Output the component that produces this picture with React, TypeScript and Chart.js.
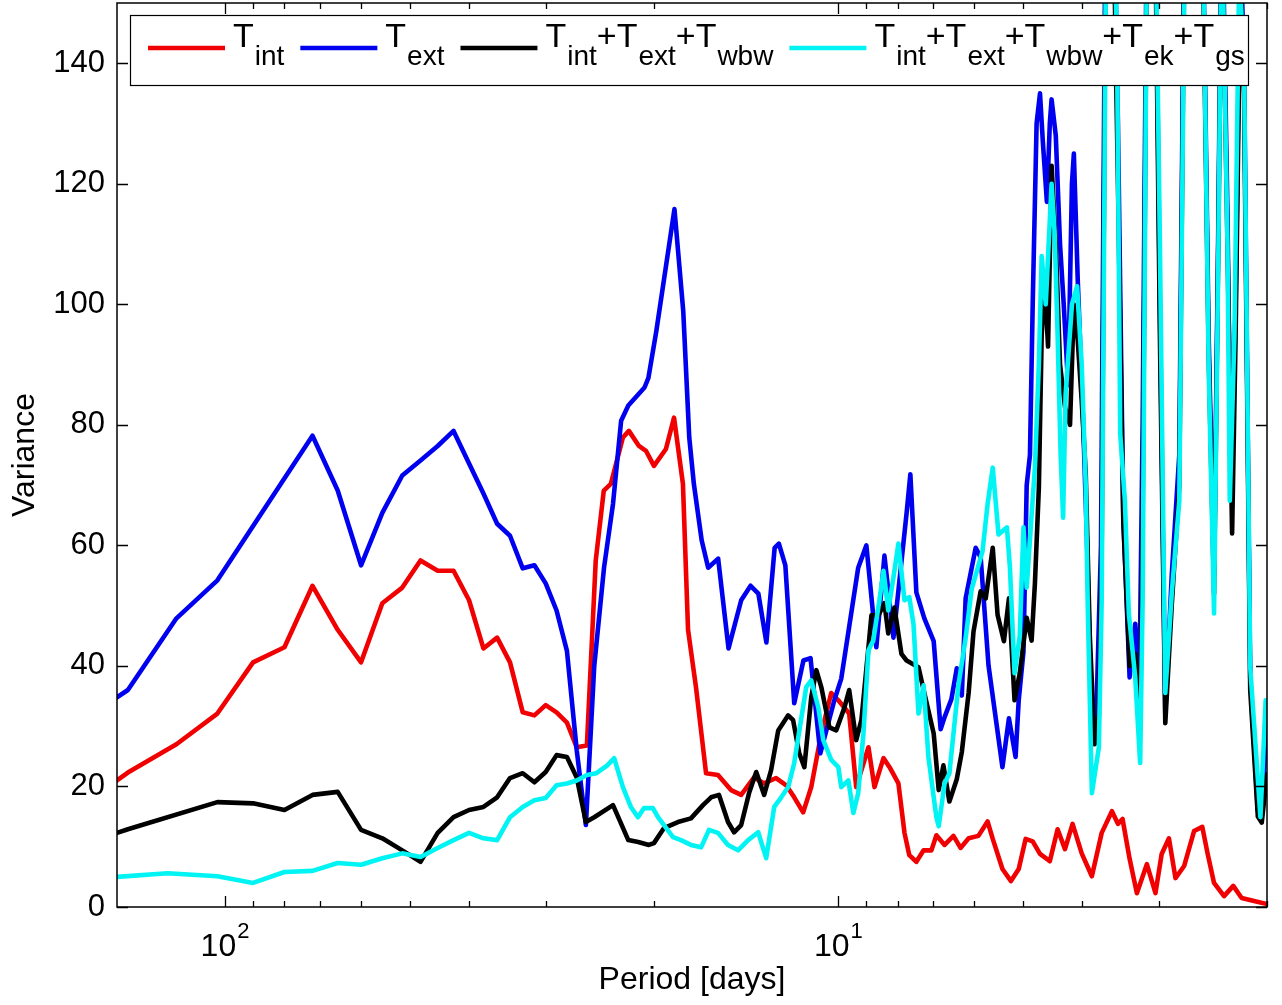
import React, { useEffect, useRef } from 'react';
import { Chart, registerables } from 'chart.js';

Chart.register(...registerables);

// ---- data (period in days, variance) ----
const redPeriod = [150,144,120,102.9,90,80,72,65.5,60,55.4,51.4,48,45,42.4,40,37.9,36,34.3,32.7,31.3,30,28.8,27.7,26.7,25.7,24.86,24.12,23.49,22.45,21.95,21.14,20.59,19.98,19.10,18.53,17.92,17.58,17.06,16.43,15.71,14.96,14.40,13.72,13.21,12.63,12.16,11.80,11.41,11.07,10.66,10.27,10.0,9.60,9.35,8.93,8.73,8.44,8.25,7.98,7.80,7.66,7.46,7.26,7.05,6.92,6.71,6.49,6.32,6.13,5.91,5.71,5.60,5.40,5.23,5.08,4.95,4.82,4.69,4.52,4.39,4.27,4.15,4.01,3.86,3.72,3.58,3.50,3.44,3.35,3.26,3.14,3.04,2.97,2.89,2.82,2.73,2.63,2.55,2.50,2.44,2.35,2.27,2.20,2.10,2.0];
const redValue = [21.0,22.3,27.0,32.1,40.6,43.1,53.3,46.0,40.6,50.4,53.0,57.5,55.8,55.8,50.9,42.9,44.7,40.6,32.3,31.8,33.5,32.3,30.6,26.5,26.8,57.5,69.1,70.2,77.9,79.0,76.5,75.7,73.2,76.0,81.2,70.2,46.0,36.4,22.2,21.9,19.4,18.6,21.5,20.5,21.4,20.2,18.2,15.7,19.9,28.8,35.5,34.3,32.1,19.9,26.5,19.9,24.7,23.2,20.5,12.3,8.6,7.5,9.4,9.4,11.9,10.3,11.8,9.8,11.4,11.8,14.2,11.3,6.3,4.3,6.3,11.3,10.9,8.8,7.6,12.9,9.6,13.8,8.9,5.1,12.3,15.9,13.8,14.6,8.0,2.3,7.1,2.3,8.8,11.4,4.8,6.8,12.6,13.3,8.9,4.0,1.8,3.5,1.5,1.0,0.5];

const bluePeriod = [150,144,120,102.9,72,65.5,60,55.4,51.4,48,45,42.4,40,37.9,36,34.3,32.7,31.3,30,28.8,27.7,26.7,25.8,25.0,24.1,23.3,22.6,22.0,20.7,20.4,19.8,18.5,17.9,17.5,17.2,16.7,16.3,15.7,15.1,14.4,13.9,13.5,13.1,12.7,12.5,12.2,11.8,11.4,11.1,10.7,10.15,9.89,9.28,9.00,8.67,8.41,8.13,7.74,7.63,7.46,7.24,6.99,6.81,6.71,6.54,6.41,6.29,6.20,5.97,5.86,5.69,5.40,5.27,5.14,5.08,4.99,4.93,4.87,4.82,4.75,4.69,4.64,4.57,4.52,4.49,4.42,4.35,4.29,4.22,4.16,4.13,4.07,3.99,3.93,3.86,3.80,3.73,3.67,3.58,3.50,3.43,3.35,3.28,3.23,3.19,3.14,3.06,2.99,2.93,2.86,2.78,2.73,2.65,2.55,2.49,2.44,2.40,2.37,2.32,2.29,2.25,2.21,2.18,2.13,2.07,2.04,2.01,2.0];
const blueValue = [34.8,36.0,47.9,54.2,78.2,69.1,56.7,65.4,71.6,74.1,76.5,79.0,73.6,68.6,63.6,61.6,56.2,56.7,53.7,49.2,42.5,26.0,13.6,40,56.3,66.9,80.7,83.2,86.2,87.8,95.6,115.8,98.9,77.9,70.2,60.8,56.3,57.8,42.9,50.9,53.3,52.0,43.9,59.6,60.3,56.7,33.8,40.9,41.3,25.5,34.3,37.9,56.3,60.0,43.1,58.3,44.7,65.3,71.8,52.2,47.9,44.1,29.5,31.5,34.5,39.6,35.1,51.2,59.6,58.0,40.1,23.2,31.3,24.9,34.3,42.4,70,75,100,130,135,127,117,130,134,128,110,100,86.6,120,125,104,81,60,28,30,60,160,190,130,64.6,38.1,47,35,80,165,190,100,32,55,75,160,190,170,95,55,115,170,115,70,100,160,140,38,16,15,28,30];

const blackPeriod = [150,144,102.9,90,80,72,65.5,60,55.4,51.4,48,45,42.4,40,37.9,36,34.3,32.7,31.3,30,28.8,27.7,26.7,25.8,25.0,23.3,22.0,21.2,20.36,19.98,19.24,18.26,17.39,16.62,16.12,15.65,15.13,14.79,14.40,13.98,13.61,13.21,12.87,12.53,12.07,11.85,11.58,11.36,11.07,10.86,10.66,10.34,10.08,9.78,9.60,9.35,9.17,8.93,8.83,8.60,8.41,8.29,8.10,7.89,7.74,7.40,7.24,6.99,6.86,6.74,6.59,6.41,6.29,6.13,6.02,5.86,5.75,5.60,5.50,5.37,5.27,5.16,5.06,4.93,4.84,4.78,4.71,4.66,4.61,4.55,4.49,4.42,4.35,4.27,4.19,4.13,4.07,4.01,3.95,3.89,3.82,3.76,3.72,3.67,3.58,3.50,3.43,3.35,3.28,3.22,3.19,3.14,3.06,2.99,2.93,2.86,2.78,2.73,2.65,2.55,2.49,2.44,2.40,2.37,2.32,2.28,2.25,2.21,2.18,2.13,2.07,2.04,2.01,2.0];
const blackValue = [12.3,12.9,17.4,17.2,16.1,18.6,19.1,12.8,11.4,9.4,7.5,12.3,14.9,16.1,16.6,18.2,21.4,22.2,20.7,22.4,25.2,24.9,21.5,14.1,14.9,16.9,11.1,10.8,10.3,10.6,13.1,14.1,14.7,16.9,18.2,18.6,14.1,12.4,13.6,18.9,22.4,18.6,22.7,29.3,31.8,31.0,25.5,23.2,34.8,39.3,36.5,29.8,29.3,33.0,36.0,27.7,31.0,43.1,48.4,48.4,50.4,45.4,49.7,42.0,40.9,39.8,35.5,28.8,19.4,23.5,17.5,21.2,25.7,35.6,45.7,52.4,51.2,59.6,48.5,44.1,51.2,34.3,38.8,48,44.2,53.7,69.6,95,104,93,123,110,90,83,80,100,94,84,72,45,27,32,60,150,180,120,64,40,42,30,65,160,185,95,30.5,50,70,155,185,165,92,52,112,165,110,62,95,155,135,36,15,14,20,22];

const cyanPeriod = [150,124,102.9,90,80,72,65.5,60,55.4,51.4,48,45,42.4,40,37.9,36,34.3,32.7,31.3,30,28.8,27.7,26.7,25.7,24.8,23.8,23.2,22.45,21.79,21.22,20.75,20.06,19.68,18.60,18.05,17.39,16.74,16.25,15.71,15.13,14.57,14.03,13.51,13.11,12.72,12.39,12.07,11.80,11.28,11.07,10.78,10.58,10.27,10.0,9.89,9.63,9.45,9.28,9.10,8.93,8.77,8.57,8.44,8.29,8.13,7.98,7.80,7.66,7.54,7.40,7.26,7.13,6.92,6.86,6.71,6.59,6.37,6.20,6.06,5.82,5.71,5.60,5.48,5.31,5.25,5.16,5.06,4.99,4.93,4.84,4.78,4.71,4.66,4.59,4.54,4.49,4.44,4.39,4.34,4.30,4.26,4.16,4.08,4.01,3.95,3.92,3.86,3.76,3.72,3.66,3.58,3.51,3.47,3.41,3.36,3.28,3.22,3.19,3.14,3.06,2.99,2.93,2.86,2.78,2.73,2.65,2.55,2.49,2.44,2.40,2.37,2.32,2.30,2.26,2.22,2.18,2.13,2.05,2.01,2.0];
const cyanValue = [5.0,5.6,5.1,4.0,5.8,6.0,7.3,7.0,8.1,8.9,8.3,9.8,11.1,12.3,11.4,11.1,14.9,16.6,17.7,18.1,20.2,20.5,21.0,21.9,22.2,23.5,24.7,19.9,16.6,14.9,16.4,16.4,14.9,11.6,11.1,10.3,9.9,12.8,12.3,10.3,9.4,11.1,12.4,8.1,16.6,18.2,19.9,23.9,36.5,37.6,33.1,27.7,24.4,23.2,19.9,21.0,15.6,18.9,28.8,42.6,44.2,50.9,55.8,49.2,54.7,60.3,50.9,51.4,46.9,32.1,36.8,24.9,14.9,13.4,20.5,22.2,36.8,44.6,52.8,59.0,66.8,72.9,61.8,63,56.3,38.8,45,63,53,65,73,90,108,100,110,120,112,95,75,64.6,85,100,103,90,70,50,18.9,26.5,50.9,160,185,140,78.5,67.4,48.7,38.1,23.9,50.9,160,185,110,35.5,52,67.4,150,185,170,90,48.7,110,165,110,67.4,95,155,140,39.8,14.9,34.3,33.5];

const yTicks = [0, 20, 40, 60, 80, 100, 120, 140];
const xTicks = [2, 3, 4, 5, 6, 7, 8, 9, 10, 20, 30, 40, 50, 60, 70, 80, 90, 100];
const xMajorTicks = [10, 100];
// tick labels of the form base^exponent
const xTickLabelBase = '10';
const xTickLabelExp: Record<number, string> = { 10: '1', 100: '2' };

const seriesColors = ['#f00000', '#0000f0', '#000000', '#00f4f4'];
// legend names: pairs of [base, subscript], joined with "+"
const seriesNames: [string, string][][] = [
  [['T', 'int']],
  [['T', 'ext']],
  [['T', 'int'], ['T', 'ext'], ['T', 'wbw']],
  [['T', 'int'], ['T', 'ext'], ['T', 'wbw'], ['T', 'ek'], ['T', 'gs']],
];

const FONT = '"Liberation Sans", Arial, Helvetica, sans-serif';

const framePlugin = {
  id: 'frameAndLegend',
  afterDatasetsDraw(chart: any) {
    const { ctx, chartArea: a, scales } = chart;
    const xs = scales.x;
    const ys = scales.y;
    ctx.save();
    // axes box
    ctx.strokeStyle = '#000';
    ctx.lineWidth = 1.5;
    ctx.strokeRect(a.left, a.top, a.right - a.left, a.bottom - a.top);
    // inward ticks
    ctx.beginPath();
    for (const v of yTicks) {
      const py = Math.round(ys.getPixelForValue(v)) + 0.5;
      ctx.moveTo(a.left, py); ctx.lineTo(a.left + 11, py);
      ctx.moveTo(a.right, py); ctx.lineTo(a.right - 11, py);
    }
    for (const v of xTicks) {
      const px = Math.round(xs.getPixelForValue(v)) + 0.5;
      const len = xMajorTicks.includes(v) ? 11 : 6;
      ctx.moveTo(px, a.bottom); ctx.lineTo(px, a.bottom - len);
      ctx.moveTo(px, a.top); ctx.lineTo(px, a.top + len);
    }
    ctx.lineWidth = 1.3;
    ctx.stroke();

    // x tick labels with superscript exponent
    ctx.fillStyle = '#000';
    ctx.textBaseline = 'alphabetic';
    ctx.textAlign = 'left';
    const baseFont = `32px ${FONT}`;
    const expFont = `22px ${FONT}`;
    for (const v of xMajorTicks) {
      const px = xs.getPixelForValue(v);
      const exp = xTickLabelExp[v];
      ctx.font = baseFont;
      const wb = ctx.measureText(xTickLabelBase).width;
      ctx.font = expFont;
      const we = ctx.measureText(exp).width;
      const x0 = px - (wb + we + 1) / 2;
      ctx.font = baseFont;
      ctx.fillText(xTickLabelBase, x0, a.bottom + 49);
      ctx.font = expFont;
      ctx.fillText(exp, x0 + wb + 1, a.bottom + 31);
    }

    // legend box
    const L = { left: a.left + 13, top: a.top + 12, right: a.right - 19, bottom: a.top + 82 };
    ctx.fillStyle = '#fff';
    ctx.fillRect(L.left, L.top, L.right - L.left, L.bottom - L.top);
    ctx.lineWidth = 1.2;
    ctx.strokeStyle = '#000';
    ctx.strokeRect(L.left + 0.5, L.top + 0.5, L.right - L.left, L.bottom - L.top);

    const mainFont = `34px ${FONT}`;
    const subFont = `28px ${FONT}`;
    const baseY = L.top + 32;
    const subY = baseY + 18;
    let cx = L.left + 18;
    seriesNames.forEach((parts, i) => {
      ctx.strokeStyle = seriesColors[i];
      ctx.lineWidth = 4.5;
      ctx.beginPath();
      ctx.moveTo(cx, baseY + 1);
      ctx.lineTo(cx + 77, baseY + 1);
      ctx.stroke();
      cx += 77 + 8;
      ctx.fillStyle = '#000';
      parts.forEach(([base, sub], j) => {
        if (j > 0) {
          ctx.font = mainFont;
          ctx.fillText('+', cx, baseY);
          cx += ctx.measureText('+').width;
        }
        ctx.font = mainFont;
        ctx.fillText(base, cx, baseY);
        cx += ctx.measureText(base).width + 1;
        ctx.font = subFont;
        ctx.fillText(sub, cx, subY);
        cx += ctx.measureText(sub).width;
      });
      cx += 16;
    });
    ctx.restore();
  },
};

export default function App() {
  const ref = useRef<HTMLCanvasElement>(null);
  useEffect(() => {
    const canvas = ref.current;
    if (!canvas) return;
    const mk = (p: number[], v: number[]) => p.map((x, i) => ({ x, y: v[i] }));
    const chart = new Chart(canvas, {
      type: 'line',
      data: {
        datasets: [
          { label: 'T_int', data: mk(redPeriod, redValue), borderColor: seriesColors[0], order: 4, clip: 0 },
          { label: 'T_ext', data: mk(bluePeriod, blueValue), borderColor: seriesColors[1], order: 3, clip: 0 },
          { label: 'T_int+T_ext+T_wbw', data: mk(blackPeriod, blackValue), borderColor: seriesColors[2], order: 2, clip: 0 },
          { label: 'T_int+T_ext+T_wbw+T_ek+T_gs', data: mk(cyanPeriod, cyanValue), borderColor: seriesColors[3], order: 1, clip: 0 },
        ] as any,
      },
      options: {
        responsive: false,
        animation: false,
        layout: { padding: { left: 0, top: 3, right: 15, bottom: 0 } },
        elements: {
          point: { radius: 0 },
          line: { borderWidth: 4.6, tension: 0, borderJoinStyle: 'round', borderCapStyle: 'round', fill: false },
        },
        plugins: { legend: { display: false }, tooltip: { enabled: false } },
        scales: {
          x: {
            type: 'logarithmic',
            reverse: true,
            min: 2,
            max: 150,
            afterBuildTicks: (s: any) => { s.ticks = xTicks.map((v) => ({ value: v })); },
            afterFit: (s: any) => { s.height = 98; s.paddingLeft = 0; s.paddingRight = 0; },
            grid: { display: false, drawTicks: false },
            border: { display: false },
            ticks: {
              autoSkip: false,
              maxRotation: 0,
              minRotation: 0,
              color: '#000',
              font: { family: FONT, size: 31 },
              callback: () => '',
            },
            title: {
              display: true,
              text: 'Period [days]',
              color: '#000',
              font: { family: FONT, size: 32 },
              padding: { top: 0, bottom: 6 },
            },
          },
          y: {
            type: 'linear',
            min: 0,
            max: 150,
            afterBuildTicks: (s: any) => { s.ticks = yTicks.map((v) => ({ value: v })); },
            afterFit: (s: any) => { s.width = 117; s.paddingTop = 0; s.paddingBottom = 0; },
            grid: { display: false, drawTicks: false },
            border: { display: false },
            ticks: {
              color: '#000',
              padding: 12,
              font: { family: FONT, size: 31 },
              callback: (v: any) => String(v),
            },
            title: {
              display: true,
              text: 'Variance',
              color: '#000',
              font: { family: FONT, size: 32 },
              padding: { top: 6, bottom: 0 },
            },
          },
        },
      } as any,
      plugins: [framePlugin],
    });
    return () => chart.destroy();
  }, []);
  return (
    <div style={{ position: 'fixed', left: 0, top: 0, width: 1282, height: 1005, background: '#fff' }}>
      <canvas ref={ref} width={1282} height={1005} style={{ display: 'block' }} />
    </div>
  );
}
